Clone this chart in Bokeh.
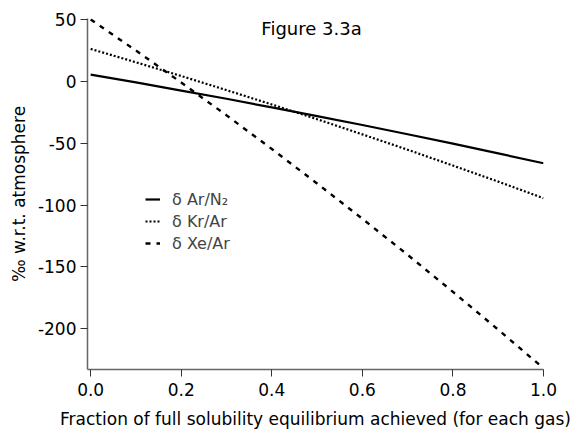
from bokeh.plotting import figure
from bokeh.models import Range1d, Legend, LegendItem, Label, FixedTicker
from bokeh.embed import file_html
from bokeh.resources import INLINE

# Data (the curves bend slightly downward)
x_frac = [0.0, 0.1, 0.2, 0.3, 0.4, 0.5, 0.6, 0.7, 0.8, 0.9, 1.0]
ar_n2 = [5.4, -0.9, -7.5, -14.1, -21.1, -28.1, -35.3, -42.8, -50.4, -58.3, -66.2]
kr_ar = [26.2, 15.4, 4.3, -7.1, -18.7, -30.6, -42.9, -55.3, -68.1, -81.1, -94.5]
xe_ar = [50.0, 24.9, -1.0, -27.5, -54.7, -82.6, -111.1, -140.3, -170.2, -200.8, -232.0]

x_ticks = [0.0, 0.2, 0.4, 0.6, 0.8, 1.0]
y_ticks = [50, 0, -50, -100, -150, -200]

title_text = "Figure 3.3a"
x_label = "Fraction of full solubility equilibrium achieved (for each gas)"
y_label = "\u2030 w.r.t. atmosphere"
series_labels = ["\u03b4 Ar/N\u2082", "\u03b4 Kr/Ar", "\u03b4 Xe/Ar"]

FONT = "DejaVu Sans"

p = figure(width=581, height=433, output_backend="svg", toolbar_location=None,
           x_range=Range1d(-0.007, 1.0), y_range=Range1d(-233, 50.8),
           min_border_left=87, min_border_right=38, min_border_top=18, min_border_bottom=64)
p.outline_line_color = None
p.grid.visible = False
p.background_fill_color = "white"
p.border_fill_color = "white"

r1 = p.line(x_frac, ar_n2, line_color="black", line_width=2.2)
r2 = p.line(x_frac, kr_ar, line_color="black", line_width=2.2, line_dash="2 2")
r3 = p.line(x_frac, xe_ar, line_color="black", line_width=2.4, line_dash="5 6")

for ax in (p.xaxis[0], p.yaxis[0]):
    ax.axis_line_color = "#666666"
    ax.axis_line_width = 1.5
    ax.major_tick_line_color = "#333333"
    ax.major_tick_out = 7
    ax.major_tick_in = 0
    ax.minor_tick_line_color = None
    ax.major_label_text_font = FONT
    ax.major_label_text_font_size = "17px"
    ax.major_label_text_color = "black"
    ax.axis_label_text_font = FONT
    ax.axis_label_text_font_style = "normal"
    ax.axis_label_text_color = "black"

p.xaxis.ticker = FixedTicker(ticks=x_ticks)
p.yaxis.ticker = FixedTicker(ticks=y_ticks)
p.xaxis.major_label_overrides = {t: f"{t:.1f}" for t in x_ticks}
p.yaxis.major_label_overrides = {t: str(t) for t in y_ticks}
p.xaxis.major_label_standoff = 6
p.yaxis.major_label_standoff = 4

p.yaxis.axis_label = y_label
p.yaxis.axis_label_text_font_size = "17px"
p.yaxis.axis_label_standoff = 6

p.xaxis.axis_label = x_label
p.xaxis.axis_label_text_font_size = "17px"
p.xaxis.axis_label_standoff = 10

p.add_layout(Label(x=224, y=341, x_units="screen", y_units="screen", text=title_text,
                   text_font=FONT, text_font_size="18px", text_align="center",
                   text_baseline="middle", text_color="black"))

legend = Legend(items=[LegendItem(label=series_labels[0], renderers=[r1]),
                       LegendItem(label=series_labels[1], renderers=[r2]),
                       LegendItem(label=series_labels[2], renderers=[r3])],
                location=(58, 116), padding=0, margin=0, spacing=2,
                glyph_width=15, glyph_height=20, label_height=20, label_standoff=12,
                label_text_font=FONT, label_text_font_size="16px",
                border_line_color=None, background_fill_alpha=0)
p.add_layout(legend)

open("out.html", "w").write(file_html(p, INLINE))
